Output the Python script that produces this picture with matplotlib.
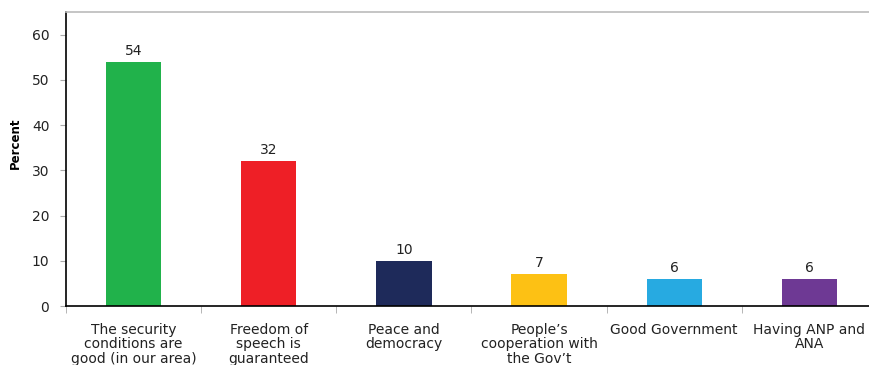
import matplotlib
matplotlib.use("Agg")
import matplotlib.pyplot as plt
import numpy as np

plt.rcParams['font.family'] = ['DejaVu Sans']

categories = [
    "The security\nconditions are\ngood (in our area)",
    "Freedom of\nspeech is\nguaranteed",
    "Peace and\ndemocracy",
    "People\u2019s\ncooperation with\nthe Gov\u2019t",
    "Good Government",
    "Having ANP and\nANA",
]
values = [54, 32, 10, 7, 6, 6]
colors = ["#21B24B", "#EE1F26", "#1E2A5A", "#FDC114", "#27AAE1", "#6E3994"]
y_ticks = [0, 10, 20, 30, 40, 50, 60]

fig = plt.figure(figsize=(8.7, 3.65), dpi=100)
ax = fig.add_axes([66 / 870, 59 / 365, 811 / 870, 294 / 365])

x = np.arange(len(values))
ax.bar(x, values, width=0.41, color=colors, zorder=2)
for xi, v in zip(x, values):
    ax.annotate(str(v), (xi, v), xytext=(0, 5), textcoords="offset points",
                ha="center", va="baseline", fontsize=10, color="#222222")

ax.set_xlim(-0.5, len(values) - 0.5)
ax.set_ylim(0, 65)
ax.set_yticks(y_ticks)
ax.tick_params(axis="y", labelsize=10, length=4, color="#aaaaaa", labelcolor="#222222", pad=8)

ax.set_xticks(x)
ax.set_xticklabels(categories, fontsize=10, color="#222222", linespacing=1.05)
ax.tick_params(axis="x", length=0, pad=12)
ax.set_xticks(np.arange(-0.5, len(values)), minor=True)
ax.tick_params(axis="x", which="minor", length=5, color="#aaaaaa")

ax.set_ylabel("Percent", fontsize=8.5, fontweight="bold")
ax.yaxis.set_label_coords(-0.055, 0.554)

ax.spines["right"].set_visible(False)
ax.spines["top"].set_color("#bbbbbb")
ax.spines["top"].set_linewidth(1.2)
ax.spines["left"].set_color("black")
ax.spines["bottom"].set_color("black")
ax.spines["left"].set_linewidth(1.2)
ax.spines["bottom"].set_linewidth(1.2)

fig.savefig("out.png", dpi=100)
